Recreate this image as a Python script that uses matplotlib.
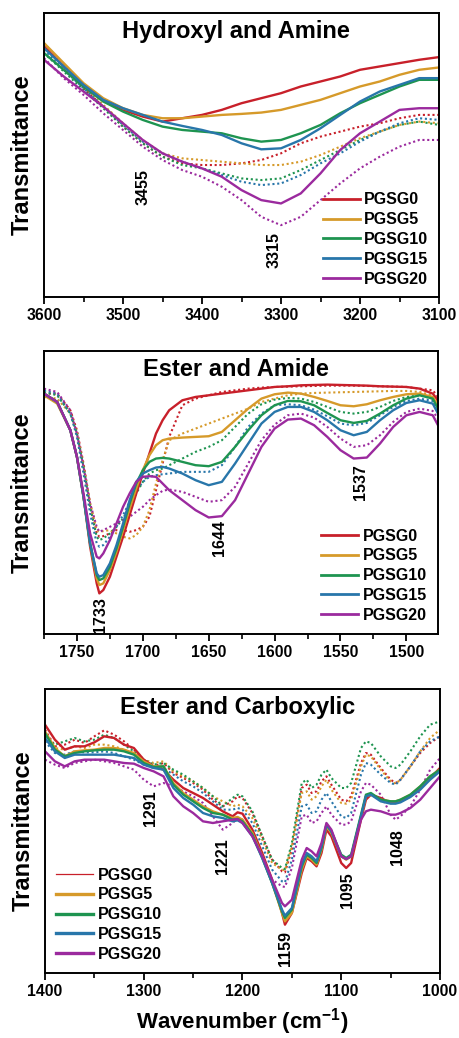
import numpy as np
import matplotlib
matplotlib.use("Agg")
import matplotlib.pyplot as plt
from matplotlib.ticker import MultipleLocator

plt.rcParams['font.family'] = ['Liberation Sans', 'DejaVu Sans']
plt.rcParams['font.weight'] = 'bold'
plt.rcParams['mathtext.fontset'] = 'custom'
plt.rcParams['mathtext.bf'] = 'Liberation Sans:bold'
plt.rcParams['mathtext.rm'] = 'Liberation Sans:bold'

SAMPLES = ["PGSG0", "PGSG5", "PGSG10", "PGSG15", "PGSG20"]
COLORS = ["#C8202A", "#D69A2A", "#1E9450", "#2876AA", "#9B2A9E"]

# ---------------- Panel 1: Hydroxyl and Amine ----------------
OH_WN = [3600, 3575, 3550, 3525, 3500, 3475, 3450, 3425, 3400, 3375, 3350,
         3325, 3300, 3275, 3250, 3225, 3200, 3175, 3150, 3125, 3100]
OH_PGSG0 = [75.0, 69.0, 63.5, 59.0, 56.0, 54.0, 52.5, 53.5, 54.5, 56.0, 58.0, 59.5, 61.0, 63.0, 64.5, 66.0, 68.0, 69.0, 70.0, 71.0, 71.8]
OH_PGSG5 = [76.0, 70.0, 64.0, 59.5, 56.5, 54.5, 53.5, 53.5, 54.0, 54.5, 54.8, 55.2, 56.0, 57.5, 59.0, 61.0, 63.0, 64.5, 66.5, 68.0, 68.7]
OH_PGSG10 = [73.0, 68.0, 63.0, 58.5, 55.5, 53.0, 51.0, 50.0, 49.5, 49.0, 47.5, 46.5, 47.0, 49.0, 51.5, 55.0, 58.0, 60.5, 63.0, 65.0, 65.0]
OH_PGSG15 = [74.5, 69.0, 63.5, 59.0, 56.5, 54.5, 52.5, 51.2, 50.0, 48.5, 46.0, 44.2, 44.5, 47.0, 50.5, 54.5, 58.5, 61.5, 63.5, 65.5, 65.5]
OH_PGSG20 = [71.0, 66.0, 61.5, 57.0, 52.0, 47.0, 43.0, 40.5, 38.5, 36.0, 32.0, 29.0, 28.0, 31.0, 37.0, 44.0, 49.0, 52.5, 56.0, 56.5, 56.5]
OH_PGSG0_DOT = [75.0, 69.0, 62.5, 57.0, 51.0, 46.0, 42.0, 40.0, 39.5, 39.5, 40.0, 41.0, 43.0, 46.0, 48.0, 49.5, 51.0, 52.0, 53.5, 54.5, 54.5]
OH_PGSG5_DOT = [76.0, 69.5, 63.0, 57.5, 52.0, 47.0, 43.0, 41.5, 41.0, 40.5, 40.0, 39.5, 39.5, 40.5, 42.5, 45.0, 47.5, 49.5, 51.5, 52.5, 52.0]
OH_PGSG10_DOT = [73.0, 67.5, 62.0, 56.5, 51.0, 46.0, 42.0, 39.5, 38.5, 37.0, 35.5, 35.0, 35.5, 38.0, 41.0, 44.0, 47.0, 49.5, 51.5, 52.5, 51.5]
OH_PGSG15_DOT = [74.0, 68.0, 62.5, 57.0, 51.5, 46.5, 43.0, 40.5, 38.5, 36.5, 34.5, 33.5, 34.0, 36.5, 40.0, 43.0, 46.5, 49.5, 52.0, 53.5, 53.0]
OH_PGSG20_DOT = [71.5, 65.5, 60.5, 55.0, 50.0, 45.0, 41.0, 38.0, 36.0, 33.0, 29.0, 24.0, 21.5, 24.0, 29.0, 34.0, 38.5, 42.0, 45.0, 47.0, 47.0]
OH_PEAKS = [3455, 3315]

# ---------------- Panel 2: Ester and Amide ----------------
EA_WN = [1775, 1765, 1755, 1750, 1745, 1740, 1735, 1733, 1730, 1725, 1720, 1715, 1710, 1705,
         1700, 1695, 1690, 1685, 1680, 1670, 1660, 1650, 1640, 1630, 1620, 1610, 1600, 1590,
         1580, 1570, 1560, 1550, 1540, 1530, 1520, 1510, 1500, 1490, 1480, 1476]
EA_PGSG0 = [72.2, 69.7, 61.2, 53.2, 41.2, 26.2, 15.2, 12.2, 13.2, 17.2, 23.2, 29.2, 35.7, 42.2, 48.2, 54.2, 60.2, 64.2, 67.2, 70.2, 71.2, 71.7, 72.2, 72.7, 73.2, 73.7, 74.2, 74.4, 74.7, 74.8, 74.9, 74.8, 74.7, 74.6, 74.4, 74.3, 74.2, 73.7, 72.2, 70.2]
EA_PGSG5 = [71.7, 69.2, 61.2, 53.2, 41.2, 27.2, 16.7, 14.7, 15.2, 19.2, 24.7, 31.2, 37.7, 43.7, 49.2, 53.7, 56.7, 58.2, 58.7, 59.0, 59.2, 59.4, 60.7, 64.2, 67.7, 70.7, 72.0, 72.5, 72.2, 71.2, 70.0, 68.7, 68.4, 69.0, 70.2, 71.2, 72.0, 72.2, 71.2, 68.7]
EA_PGSG10 = [72.2, 69.7, 61.2, 53.2, 41.2, 27.2, 17.7, 16.2, 16.7, 20.2, 25.7, 32.2, 39.2, 45.2, 49.2, 51.7, 52.7, 52.9, 52.7, 51.7, 50.7, 50.4, 51.7, 56.2, 61.2, 65.7, 68.7, 70.0, 69.9, 68.7, 66.4, 64.2, 63.4, 64.0, 66.2, 68.7, 70.7, 71.7, 70.7, 67.7]
EA_PGSG15 = [72.2, 69.7, 61.2, 53.2, 41.2, 27.2, 18.2, 17.2, 17.7, 21.2, 26.7, 33.2, 40.2, 45.7, 48.2, 49.2, 50.0, 50.2, 49.7, 48.2, 46.2, 44.7, 45.7, 51.2, 57.2, 63.2, 66.7, 68.2, 68.2, 66.7, 64.2, 61.2, 59.7, 60.7, 64.2, 67.2, 69.4, 70.2, 69.2, 66.2]
EA_PGSG20 = [72.2, 69.7, 61.2, 53.2, 42.2, 30.2, 23.2, 22.7, 24.2, 28.2, 33.2, 38.2, 42.2, 45.7, 47.2, 47.4, 47.2, 45.2, 43.2, 40.2, 37.2, 35.0, 35.4, 40.2, 48.2, 56.2, 61.7, 64.4, 64.7, 62.7, 59.2, 55.2, 52.7, 53.0, 57.2, 62.2, 65.7, 66.7, 65.7, 62.7]
EA_PGSG0_DOT = [72.2, 72.2, 67.2, 61.2, 51.2, 39.2, 30.2, 29.2, 29.4, 30.2, 31.2, 31.2, 30.7, 31.2, 32.2, 35.2, 43.2, 51.2, 59.2, 68.7, 70.7, 71.7, 72.7, 73.2, 73.7, 74.0, 74.2, 74.3, 74.4, 74.5, 74.6, 74.6, 74.6, 74.5, 74.4, 74.3, 74.2, 73.7, 73.2, 71.2]
EA_PGSG5_DOT = [71.2, 70.7, 66.2, 60.2, 50.2, 39.2, 31.2, 30.7, 30.9, 31.2, 30.2, 29.2, 28.7, 29.7, 32.2, 37.2, 45.2, 52.2, 58.2, 60.2, 61.7, 63.2, 64.7, 66.2, 67.7, 69.7, 70.7, 71.7, 72.2, 72.4, 72.5, 72.6, 72.7, 72.8, 72.9, 73.0, 73.0, 72.7, 71.7, 69.7]
EA_PGSG10_DOT = [72.7, 71.7, 66.2, 60.2, 50.2, 38.2, 29.2, 28.2, 28.7, 30.2, 32.2, 34.7, 38.2, 42.2, 45.7, 48.2, 49.2, 49.7, 50.7, 52.7, 54.7, 56.2, 58.2, 62.2, 66.2, 69.0, 70.4, 70.9, 70.7, 69.7, 68.2, 66.7, 66.2, 66.7, 68.2, 70.0, 71.2, 71.7, 70.7, 68.7]
EA_PGSG15_DOT = [73.2, 72.2, 66.2, 59.2, 48.2, 36.2, 27.2, 26.2, 26.7, 29.2, 32.2, 35.7, 39.7, 43.2, 45.7, 47.2, 47.7, 48.0, 48.2, 48.7, 48.7, 48.7, 50.7, 56.2, 62.2, 66.2, 68.7, 69.0, 68.7, 67.4, 65.4, 63.2, 62.7, 63.4, 65.7, 68.2, 70.0, 70.7, 70.0, 67.2]
EA_PGSG20_DOT = [73.7, 72.7, 67.2, 60.2, 50.2, 39.2, 32.2, 30.7, 31.2, 32.2, 33.2, 34.2, 35.2, 36.7, 38.2, 40.2, 41.7, 43.0, 43.4, 42.7, 41.2, 39.7, 40.2, 44.2, 51.2, 58.2, 62.9, 65.7, 66.2, 65.0, 62.2, 58.7, 56.2, 56.7, 59.7, 63.7, 66.7, 67.7, 67.0, 64.7]
EA_PEAKS = [1733, 1644, 1537]

# ---------------- Panel 3: Ester and Carboxylic ----------------
EC_WN = [1400, 1390, 1380, 1370, 1360, 1350, 1340, 1330, 1320, 1310,
         1300, 1290, 1280, 1270, 1260, 1250, 1240, 1230, 1220, 1210,
         1205, 1200, 1190, 1180, 1170, 1160, 1157, 1150, 1140, 1135,
         1130, 1125, 1120, 1115, 1110, 1100, 1095, 1090, 1080, 1075,
         1070, 1060, 1050, 1045, 1040, 1030, 1020, 1010, 1000]
EC_PGSG0 = [74.5, 70.0, 67.0, 68.0, 68.0, 69.2, 71.0, 70.5, 68.5, 67.5, 64.0, 62.0, 61.0, 58.0, 55.5, 54.0, 52.5, 50.5, 48.5, 47.0, 48.2, 47.8, 43.0, 36.0, 28.0, 18.0, 14.5, 18.0, 30.0, 34.5, 33.5, 32.0, 36.0, 43.0, 41.0, 33.0, 31.5, 33.0, 46.0, 52.0, 53.5, 52.5, 51.0, 51.2, 51.5, 53.0, 55.5, 58.5, 61.5]
EC_PGSG5 = [72.5, 67.5, 65.0, 66.5, 66.8, 67.0, 67.5, 67.5, 67.0, 66.0, 63.5, 62.0, 62.0, 57.0, 54.0, 52.0, 50.0, 48.5, 47.5, 46.5, 46.8, 46.0, 42.0, 35.0, 27.0, 18.0, 15.5, 18.0, 31.0, 35.0, 34.0, 32.5, 37.0, 44.0, 42.0, 35.0, 34.0, 35.0, 47.0, 53.0, 53.5, 52.0, 51.5, 51.5, 52.0, 53.5, 56.0, 59.0, 61.0]
EC_PGSG10 = [72.0, 67.0, 65.0, 66.0, 66.5, 66.8, 67.0, 67.0, 66.5, 65.5, 63.0, 61.8, 62.0, 56.5, 53.5, 51.5, 49.5, 48.0, 47.5, 46.0, 46.2, 45.5, 41.5, 34.5, 27.0, 18.5, 16.5, 19.0, 32.0, 35.5, 34.5, 33.0, 37.5, 44.5, 42.5, 35.5, 34.5, 35.5, 47.5, 53.5, 54.0, 52.0, 51.5, 51.5, 52.0, 53.5, 56.0, 59.0, 61.0]
EC_PGSG15 = [70.5, 66.5, 64.5, 65.5, 65.5, 65.5, 65.5, 65.5, 65.0, 64.5, 62.5, 61.5, 61.0, 55.5, 52.5, 50.5, 48.0, 47.0, 46.5, 45.5, 45.8, 45.0, 41.0, 34.5, 27.0, 19.0, 17.2, 19.5, 32.5, 36.0, 35.0, 33.5, 38.0, 44.5, 42.5, 35.0, 34.2, 35.0, 47.0, 53.0, 53.5, 51.5, 50.8, 50.8, 51.2, 52.8, 55.0, 58.0, 60.5]
EC_PGSG20 = [66.5, 63.5, 62.0, 63.5, 64.0, 64.0, 64.0, 63.5, 63.0, 62.8, 61.5, 60.5, 59.0, 53.0, 50.0, 48.0, 45.5, 45.0, 45.5, 46.0, 46.2, 45.0, 41.0, 35.0, 28.0, 21.0, 20.0, 22.0, 34.0, 37.5, 36.5, 35.0, 39.0, 45.0, 43.0, 35.0, 34.2, 35.0, 46.0, 48.5, 49.0, 48.5, 47.5, 47.5, 48.0, 49.5, 52.0, 55.5, 59.0]
EC_PGSG0_DOT = [73.0, 68.0, 68.5, 70.0, 69.0, 71.0, 72.8, 71.5, 69.5, 67.0, 64.0, 62.0, 63.0, 60.0, 58.5, 57.0, 55.0, 52.0, 50.0, 51.5, 53.0, 52.5, 48.0, 41.0, 34.0, 30.5, 30.2, 37.0, 55.5, 56.5, 54.0, 54.5, 57.5, 59.0, 56.5, 52.0, 51.5, 53.0, 63.0, 66.0, 65.5, 61.5, 58.0, 57.0, 58.0, 62.0, 66.0, 69.0, 71.0]
EC_PGSG5_DOT = [72.0, 67.5, 67.0, 68.0, 67.5, 68.5, 68.5, 68.0, 67.0, 65.5, 64.0, 63.0, 63.5, 60.5, 59.0, 57.5, 55.5, 53.0, 51.5, 50.0, 50.5, 50.0, 46.5, 40.0, 33.0, 31.0, 30.8, 38.0, 54.0, 54.5, 52.0, 53.0, 56.0, 58.0, 55.0, 51.0, 50.8, 52.0, 62.0, 65.5, 65.0, 61.0, 57.5, 56.8, 58.0, 62.0, 66.5, 70.5, 73.0]
EC_PGSG10_DOT = [71.0, 68.5, 69.5, 70.5, 69.5, 70.0, 71.5, 70.5, 68.5, 66.5, 64.0, 62.5, 63.0, 61.0, 59.5, 57.5, 55.5, 53.0, 50.0, 52.5, 53.5, 53.0, 48.5, 41.0, 34.0, 31.5, 31.2, 39.0, 57.0, 58.0, 55.5, 56.5, 59.5, 61.0, 58.5, 55.5, 55.5, 57.0, 67.5, 69.5, 69.0, 65.0, 62.0, 61.5, 62.5, 66.5, 71.0, 74.5, 75.5]
EC_PGSG15_DOT = [69.5, 66.0, 65.5, 66.5, 66.2, 66.2, 66.5, 66.0, 65.0, 64.0, 62.5, 61.5, 61.5, 59.5, 57.5, 56.0, 54.0, 51.5, 49.0, 49.0, 49.5, 49.0, 45.0, 38.0, 31.0, 27.5, 27.2, 34.0, 50.0, 50.5, 48.0, 48.5, 52.0, 54.0, 51.5, 47.0, 46.5, 48.0, 59.5, 63.0, 62.5, 59.5, 57.0, 56.5, 58.0, 62.0, 66.5, 69.5, 71.0]
EC_PGSG20_DOT = [64.0, 62.5, 61.5, 63.0, 63.5, 64.0, 63.5, 63.0, 62.0, 61.0, 58.0, 56.0, 57.0, 56.0, 54.5, 53.0, 51.0, 47.0, 43.0, 45.0, 46.5, 46.0, 41.5, 35.0, 28.0, 26.0, 25.8, 31.5, 47.0, 47.5, 45.0, 45.5, 48.0, 50.0, 47.5, 44.5, 44.5, 45.5, 54.5, 57.0, 56.5, 53.5, 47.5, 46.0, 47.0, 50.0, 55.0, 61.0, 64.5]
EC_PEAKS = [1291, 1221, 1159, 1095, 1048]

W, H = 460, 1038
fig = plt.figure(figsize=(W / 100, H / 100), dpi=100)


def px_axes(left, top, right, bottom):
    return fig.add_axes([left / W, 1 - bottom / H, (right - left) / W, (bottom - top) / H])


def style(ax, xlim, major, minor, title, ylim):
    ax.set_xlim(*xlim)
    ax.set_ylim(*ylim)
    ax.xaxis.set_major_locator(MultipleLocator(major))
    ax.xaxis.set_minor_locator(MultipleLocator(minor))
    ax.set_yticks([])
    ax.tick_params(axis='x', which='major', direction='out', length=5, width=1.3,
                   labelsize=11.3, pad=3, top=False)
    ax.tick_params(axis='x', which='minor', direction='out', length=3.5, width=1.2, top=False)
    for lab in ax.get_xticklabels():
        lab.set_fontweight('bold')
    for sp in ax.spines.values():
        sp.set_linewidth(1.4)
    ax.text(0.487, 0.935, title, transform=ax.transAxes, ha='center', va='center',
            fontsize=17, fontweight='bold')
    ax.set_ylabel('Transmittance', fontsize=17, fontweight='bold', va='center')
    ax.yaxis.set_label_coords(-0.055, 0.5)


def draw(ax, wn, solids, dots):
    for vals, c in zip(dots, COLORS):
        ax.plot(wn, vals, color=c, lw=1.5, ls=(0, (1, 1.3)))
    handles = []
    for vals, c, name in zip(solids, COLORS, SAMPLES):
        h, = ax.plot(wn, vals, color=c, lw=1.7, label=name)
        handles.append(h)
    return handles


def peaks(ax, positions, xs, heights):
    # labels sit beside the peaks they name
    for p, x, y in zip(positions, xs, heights):
        ax.text(x, y, str(p), rotation=90, ha='center', va='center',
                fontsize=11.5, fontweight='bold')


LEG = dict(frameon=False, handlelength=2.3, handletextpad=0.3, labelspacing=0.3,
           prop={'weight': 'bold', 'size': 11.5})

# Panel 1
ax1 = px_axes(44, 13, 439, 297)
h = draw(ax1, OH_WN,
         [OH_PGSG0, OH_PGSG5, OH_PGSG10, OH_PGSG15, OH_PGSG20],
         [OH_PGSG0_DOT, OH_PGSG5_DOT, OH_PGSG10_DOT, OH_PGSG15_DOT, OH_PGSG20_DOT])
style(ax1, (3600, 3100), 100, 50, 'Hydroxyl and Amine', (0, 85))
peaks(ax1, OH_PEAKS, [3475, 3309], [32.9, 14.0])
leg1 = ax1.legend(handles=h, loc='lower right', borderaxespad=0.25, **LEG)
for ln in leg1.get_lines():
    ln.set_linewidth(2.0)

# Panel 2
ax2 = px_axes(44, 351, 438, 634)
h = draw(ax2, EA_WN,
         [EA_PGSG0, EA_PGSG5, EA_PGSG10, EA_PGSG15, EA_PGSG20],
         [EA_PGSG0_DOT, EA_PGSG5_DOT, EA_PGSG10_DOT, EA_PGSG15_DOT, EA_PGSG20_DOT])
style(ax2, (1775, 1476), 50, 25, 'Ester and Amide', (0, 85))
peaks(ax2, EA_PEAKS, [1732, 1642, 1535], [5.7, 28.7, 45.7])
leg2 = ax2.legend(handles=h, loc='lower right', borderaxespad=0.3, **LEG)
for ln in leg2.get_lines():
    ln.set_linewidth(2.0)

# Panel 3
ax3 = px_axes(45, 689, 440, 973)
h = draw(ax3, EC_WN,
         [EC_PGSG0, EC_PGSG5, EC_PGSG10, EC_PGSG15, EC_PGSG20],
         [EC_PGSG0_DOT, EC_PGSG5_DOT, EC_PGSG10_DOT, EC_PGSG15_DOT, EC_PGSG20_DOT])
style(ax3, (1400, 1000), 100, 50, 'Ester and Carboxylic', (0, 85.2))
peaks(ax3, EC_PEAKS, [1293, 1220, 1156, 1094, 1043], [49.5, 35.2, 7.2, 24.8, 37.7])
leg3 = ax3.legend(handles=h, loc='lower left', borderaxespad=0.3, **LEG)
for i, ln in enumerate(leg3.get_lines()):
    ln.set_linewidth(0.9 if i == 0 else 2.4)
ax3.set_xlabel('Wavenumber (cm$^{\\mathbf{-1}}$)', fontsize=16, fontweight='bold', va='center')
ax3.xaxis.set_label_coords(0.499, -0.172)

fig.savefig('out.png', dpi=100)
